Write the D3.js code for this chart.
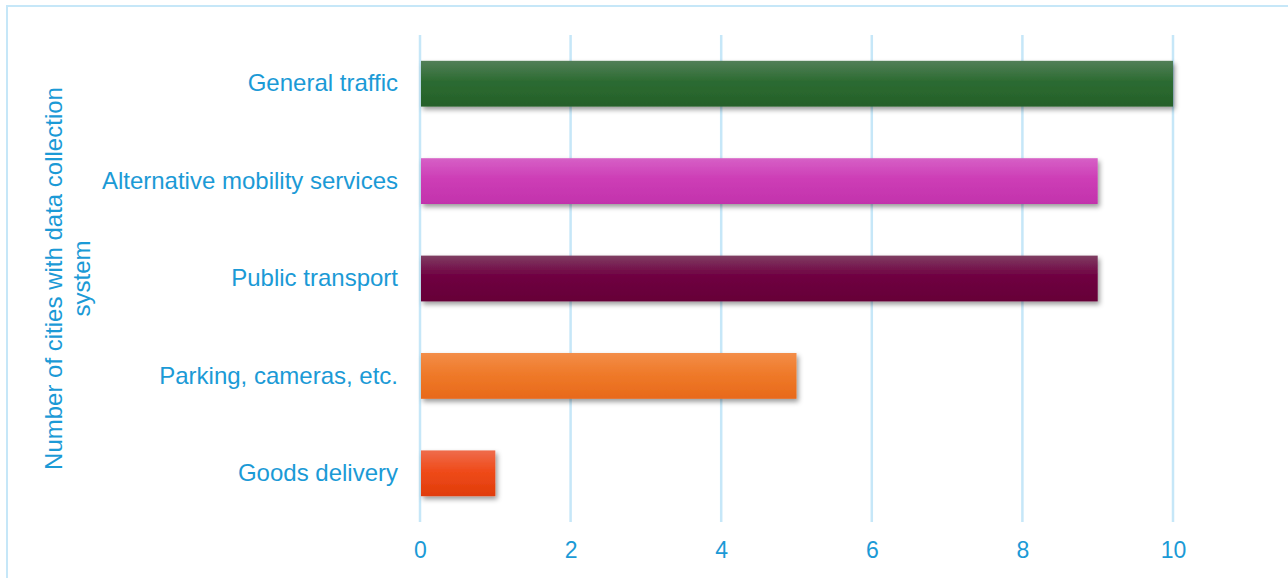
<!DOCTYPE html>
<html>
<head>
<meta charset="utf-8">
<script src="https://cdn.jsdelivr.net/npm/d3@7"></script>
<style>
  html, body { margin: 0; padding: 0; background: #fff; }
  svg { display: block; font-family: "Liberation Sans", Arial, sans-serif; }
</style>
</head>
<body>
<svg id="chart" width="1288" height="578"></svg>
<script>
// Categories, values and bar colours (top highlight, body, bottom)
const categories = ["General traffic", "Alternative mobility services", "Public transport", "Parking, cameras, etc.", "Goods delivery"];
const values = [10, 9, 9, 5, 1];
const colorTop = ["#527f58", "#d660c6", "#7f3d62", "#f38d48", "#ef6c4c"];
const colorMid = ["#2c6b31", "#cd3db6", "#6f0041", "#ef7a2a", "#ef4b1a"];
const colorBot = ["#256029", "#c233ac", "#660037", "#e8691a", "#e03c0a"];
const xTicks = [0, 2, 4, 6, 8, 10];
const yTitle = ["Number of cities with data collection", "system"];

const textColor = "#1b9ad6";
const gridColor = "#c6e7f8";

const svg = d3.select("#chart");
const margin = { left: 420, right: 115, top: 35, bottom: 56 };
const W = 1288, H = 578;

const x = d3.scaleLinear().domain([0, 10]).range([margin.left, W - margin.right]);
const y = d3.scaleBand().domain(categories).range([margin.top, H - margin.bottom]).paddingInner(0.53).paddingOuter(0.265);

const defs = svg.append("defs");
const shadow = defs.append("filter").attr("id", "shadow")
  .attr("x", "-10%").attr("y", "-30%").attr("width", "130%").attr("height", "180%");
shadow.append("feDropShadow").attr("dx", 2).attr("dy", 3).attr("stdDeviation", 2.5)
  .attr("flood-color", "#000").attr("flood-opacity", 0.4);

categories.forEach((c, i) => {
  const g = defs.append("linearGradient").attr("id", "grad" + i)
    .attr("x1", 0).attr("y1", 0).attr("x2", 0).attr("y2", 1);
  g.append("stop").attr("offset", "0%").attr("stop-color", colorTop[i]);
  g.append("stop").attr("offset", "45%").attr("stop-color", colorMid[i]);
  g.append("stop").attr("offset", "100%").attr("stop-color", colorBot[i]);
});

// Outer frame
svg.append("rect").attr("x", 7).attr("y", 6).attr("width", W).attr("height", H)
  .attr("fill", "none").attr("stroke", gridColor).attr("stroke-width", 2);

// Vertical gridlines
svg.append("g").selectAll("line").data(xTicks).join("line")
  .attr("x1", d => x(d)).attr("x2", d => x(d))
  .attr("y1", margin.top).attr("y2", H - margin.bottom)
  .attr("stroke", gridColor).attr("stroke-width", 2.5);

// Bars
svg.append("g").selectAll("rect").data(categories).join("rect")
  .attr("x", x(0) + 1)
  .attr("y", d => y(d))
  .attr("width", (d, i) => x(values[i]) - x(0) - 1)
  .attr("height", y.bandwidth())
  .attr("fill", (d, i) => `url(#grad${i})`)
  .attr("filter", "url(#shadow)");

// X axis tick labels
const xAxis = d3.axisBottom(x).tickValues(xTicks).tickSize(0).tickPadding(0);
const xg = svg.append("g").attr("transform", `translate(0,${H - margin.bottom + 20})`).call(xAxis);
xg.select(".domain").remove();
xg.selectAll("text").attr("fill", textColor).style("font-size", "23px")
  .attr("dy", "0.71em");

// Category labels
const yAxis = d3.axisLeft(y).tickSize(0).tickPadding(22);
const yg = svg.append("g").attr("transform", `translate(${x(0)},0)`).call(yAxis);
yg.select(".domain").remove();
yg.selectAll("text").attr("fill", textColor).style("font-size", "24px");

// Axis title
const t = svg.append("text")
  .attr("transform", `translate(62,${(margin.top + H - margin.bottom) / 2}) rotate(-90)`)
  .attr("text-anchor", "middle").attr("fill", textColor).style("font-size", "24px");
yTitle.forEach((line, i) => {
  t.append("tspan").attr("x", 0).attr("dy", i === 0 ? 0 : 28).text(line);
});
</script>
</body>
</html>
